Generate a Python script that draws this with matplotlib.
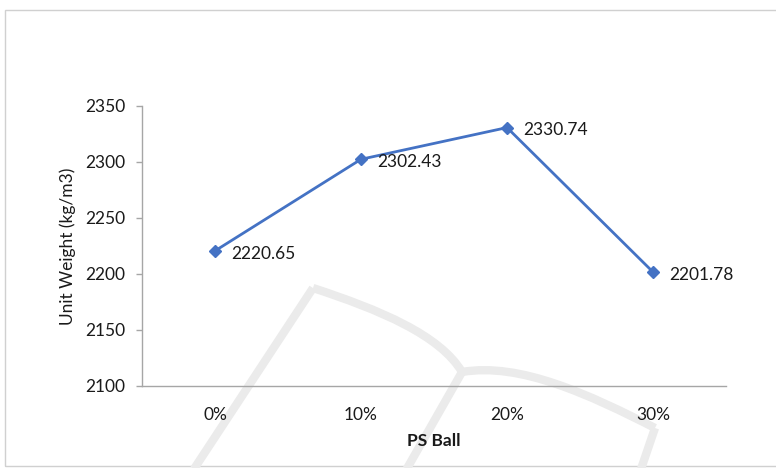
import matplotlib
matplotlib.use("Agg")
import matplotlib.pyplot as plt
from matplotlib.patches import Rectangle
from matplotlib.path import Path
from matplotlib.patches import PathPatch

plt.rcParams["font.family"] = ["Lato", "DejaVu Sans"]

# PS Ball content vs. unit weight
ps_ball = ["0%", "10%", "20%", "30%"]
unit_weight = [2220.65, 2302.43, 2330.74, 2201.78]
y_ticks = [2100, 2150, 2200, 2250, 2300, 2350]

W, H = 776, 468
fig = plt.figure(figsize=(W / 100, H / 100), dpi=100)
fig.patch.set_facecolor("white")

# chart area border
fig.add_artist(Rectangle((5 / W, 2 / H), 1.0, (H - 12) / H, transform=fig.transFigure,
                         fill=False, edgecolor="#d0d0d0", linewidth=1.0, zorder=0))

# faint background logo strokes
def px(x, y):
    return (x / W, 1 - y / H)

strokes = [
    [(192, 472), (313, 288)],
    [(313, 288), (380, 310), (440, 335), (462, 372)],
    [(462, 372), (405, 472)],
    [(462, 372), (520, 362), (590, 395), (655, 428)],
    [(655, 428), (640, 472)],
]
for s in strokes:
    pts = [px(*p) for p in s]
    if len(pts) == 2:
        codes = [Path.MOVETO, Path.LINETO]
    else:
        codes = [Path.MOVETO, Path.CURVE4, Path.CURVE4, Path.CURVE4]
    fig.add_artist(PathPatch(Path(pts, codes), transform=fig.transFigure,
                             fill=False, edgecolor="#ebebeb", linewidth=6,
                             capstyle="butt", zorder=0))

ax = fig.add_axes([142 / W, 82 / H, 584 / W, 280 / H])
ax.patch.set_alpha(0)

x = list(range(len(ps_ball)))
ax.plot(x, unit_weight, color="#4472C4", linewidth=2.0, marker="D",
        markersize=6, zorder=3)
for xi, v in zip(x, unit_weight):
    ax.annotate(f"{v:.2f}", (xi, v), xytext=(12, -2), textcoords="offset points",
                ha="left", va="center", fontsize=12.5, color="#1a1a1a")

ax.set_xlim(-0.5, len(ps_ball) - 0.5)
ax.set_ylim(2100, 2350)
ax.set_yticks(y_ticks)
ax.set_xticks(x)
ax.set_xticklabels(ps_ball)

for side in ["top", "right"]:
    ax.spines[side].set_visible(False)
ax.spines["left"].set_color("#a6a6a6")
ax.spines["bottom"].set_color("#a6a6a6")
ax.spines["left"].set_linewidth(1.0)
ax.spines["bottom"].set_linewidth(1.0)

ax.tick_params(axis="y", length=4, width=1.0, color="#a6a6a6", pad=8,
               labelsize=12.5, labelcolor="#1a1a1a")
ax.tick_params(axis="x", length=0, pad=15, labelsize=12.5, labelcolor="#1a1a1a")

ax.set_ylabel("Unit Weight (kg/m3)", fontsize=12.5, color="#1a1a1a")
ax.yaxis.set_label_coords(-0.127, 0.5)
ax.set_xlabel("PS Ball", fontsize=12.5, fontweight="bold", color="#1a1a1a")
ax.xaxis.set_label_coords(0.5, -0.196)
ax.xaxis.label.set_va("center")
ax.yaxis.label.set_va("center")

fig.savefig("out.png", dpi=100)
